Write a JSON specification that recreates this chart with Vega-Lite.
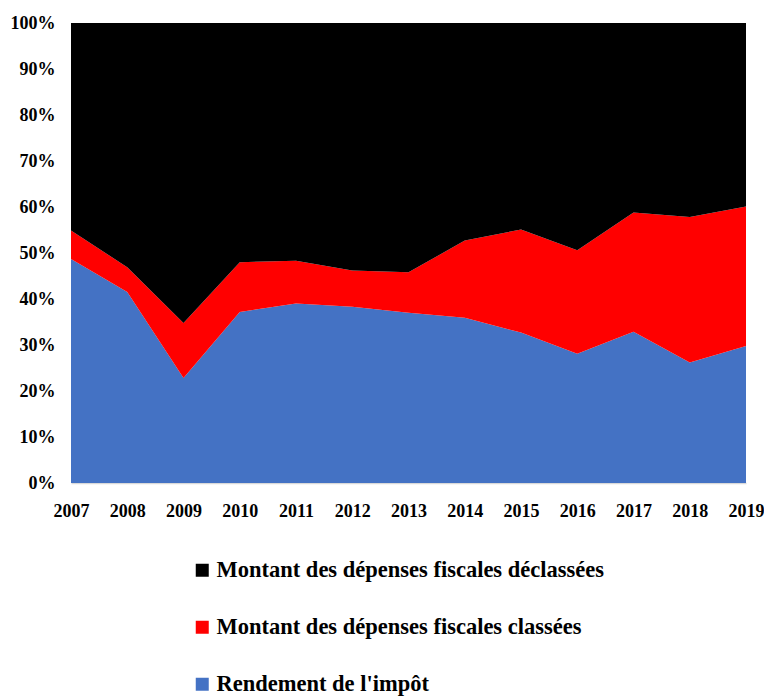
{
  "$schema": "https://vega.github.io/schema/vega-lite/v6.json",
  "autosize": {"type": "none"},
  "padding": {"left": 71, "top": 23, "right": 18, "bottom": 214},
  "width": 675,
  "height": 460,
  "background": "white",
  "config": {
    "view": {"stroke": null},
    "font": "Liberation Serif"
  },
  "data": {
    "values": [
      {"year": "2007", "series": "Rendement de l'impôt", "value": 48.7},
      {"year": "2008", "series": "Rendement de l'impôt", "value": 41.5},
      {"year": "2009", "series": "Rendement de l'impôt", "value": 22.8},
      {"year": "2010", "series": "Rendement de l'impôt", "value": 37.2},
      {"year": "2011", "series": "Rendement de l'impôt", "value": 39.0},
      {"year": "2012", "series": "Rendement de l'impôt", "value": 38.3},
      {"year": "2013", "series": "Rendement de l'impôt", "value": 37.0},
      {"year": "2014", "series": "Rendement de l'impôt", "value": 35.9},
      {"year": "2015", "series": "Rendement de l'impôt", "value": 32.7},
      {"year": "2016", "series": "Rendement de l'impôt", "value": 28.1},
      {"year": "2017", "series": "Rendement de l'impôt", "value": 32.9},
      {"year": "2018", "series": "Rendement de l'impôt", "value": 26.2},
      {"year": "2019", "series": "Rendement de l'impôt", "value": 29.8},
      {"year": "2007", "series": "Montant des dépenses fiscales classées", "value": 6.2},
      {"year": "2008", "series": "Montant des dépenses fiscales classées", "value": 5.4},
      {"year": "2009", "series": "Montant des dépenses fiscales classées", "value": 12.0},
      {"year": "2010", "series": "Montant des dépenses fiscales classées", "value": 10.8},
      {"year": "2011", "series": "Montant des dépenses fiscales classées", "value": 9.3},
      {"year": "2012", "series": "Montant des dépenses fiscales classées", "value": 7.9},
      {"year": "2013", "series": "Montant des dépenses fiscales classées", "value": 8.8},
      {"year": "2014", "series": "Montant des dépenses fiscales classées", "value": 16.8},
      {"year": "2015", "series": "Montant des dépenses fiscales classées", "value": 22.4},
      {"year": "2016", "series": "Montant des dépenses fiscales classées", "value": 22.5},
      {"year": "2017", "series": "Montant des dépenses fiscales classées", "value": 25.9},
      {"year": "2018", "series": "Montant des dépenses fiscales classées", "value": 31.6},
      {"year": "2019", "series": "Montant des dépenses fiscales classées", "value": 30.3},
      {"year": "2007", "series": "Montant des dépenses fiscales déclassées", "value": 45.1},
      {"year": "2008", "series": "Montant des dépenses fiscales déclassées", "value": 53.1},
      {"year": "2009", "series": "Montant des dépenses fiscales déclassées", "value": 65.2},
      {"year": "2010", "series": "Montant des dépenses fiscales déclassées", "value": 52.0},
      {"year": "2011", "series": "Montant des dépenses fiscales déclassées", "value": 51.7},
      {"year": "2012", "series": "Montant des dépenses fiscales déclassées", "value": 53.8},
      {"year": "2013", "series": "Montant des dépenses fiscales déclassées", "value": 54.2},
      {"year": "2014", "series": "Montant des dépenses fiscales déclassées", "value": 47.3},
      {"year": "2015", "series": "Montant des dépenses fiscales déclassées", "value": 44.9},
      {"year": "2016", "series": "Montant des dépenses fiscales déclassées", "value": 49.4},
      {"year": "2017", "series": "Montant des dépenses fiscales déclassées", "value": 41.2},
      {"year": "2018", "series": "Montant des dépenses fiscales déclassées", "value": 42.2},
      {"year": "2019", "series": "Montant des dépenses fiscales déclassées", "value": 39.9}
    ]
  },
  "transform": [
    {"calculate": "indexof(['Rendement de l\\'impôt', 'Montant des dépenses fiscales classées', 'Montant des dépenses fiscales déclassées'], datum.series)", "as": "stackOrder"}
  ],
  "mark": {"type": "area", "interpolate": "linear"},
  "encoding": {
    "x": {
      "field": "year",
      "type": "ordinal",
      "scale": {"type": "point", "padding": 0},
      "axis": {
        "title": null,
        "labelAngle": 0,
        "ticks": false,
        "labelPadding": 19,
        "labelFontSize": 18,
        "labelFontWeight": "bold",
        "labelColor": "black",
        "labelFont": "Liberation Serif",
        "domainColor": "#d9d9d9",
        "domainWidth": 1.5,
        "grid": false,
        "labelOverlap": false,
        "labelFlush": false
      }
    },
    "y": {
      "field": "value",
      "type": "quantitative",
      "stack": "normalize",
      "scale": {"domain": [0, 1]},
      "axis": {
        "title": null,
        "format": ".0%",
        "values": [0, 0.1, 0.2, 0.3, 0.4, 0.5, 0.6, 0.7, 0.8, 0.9, 1],
        "ticks": false,
        "domain": false,
        "grid": false,
        "labelPadding": 16,
        "labelFontSize": 18,
        "labelFontWeight": "bold",
        "labelColor": "black",
        "labelFont": "Liberation Serif"
      }
    },
    "color": {
      "field": "series",
      "type": "nominal",
      "scale": {
        "domain": ["Montant des dépenses fiscales déclassées", "Montant des dépenses fiscales classées", "Rendement de l'impôt"],
        "range": ["#000000", "#ff0000", "#4472c4"]
      },
      "legend": {
        "title": null,
        "orient": "none",
        "legendX": 120,
        "legendY": 536,
        "direction": "vertical",
        "symbolType": "square",
        "symbolSize": 169,
        "symbolStrokeWidth": 0,
        "labelFontSize": 22.5,
        "labelFontWeight": "bold",
        "labelFont": "Liberation Serif",
        "labelColor": "black",
        "labelOffset": 3,
        "labelLimit": 600,
        "rowPadding": 34,
        "padding": 0,
        "offset": 0
      }
    },
    "order": {"field": "stackOrder", "type": "quantitative", "sort": "ascending"}
  }
}
